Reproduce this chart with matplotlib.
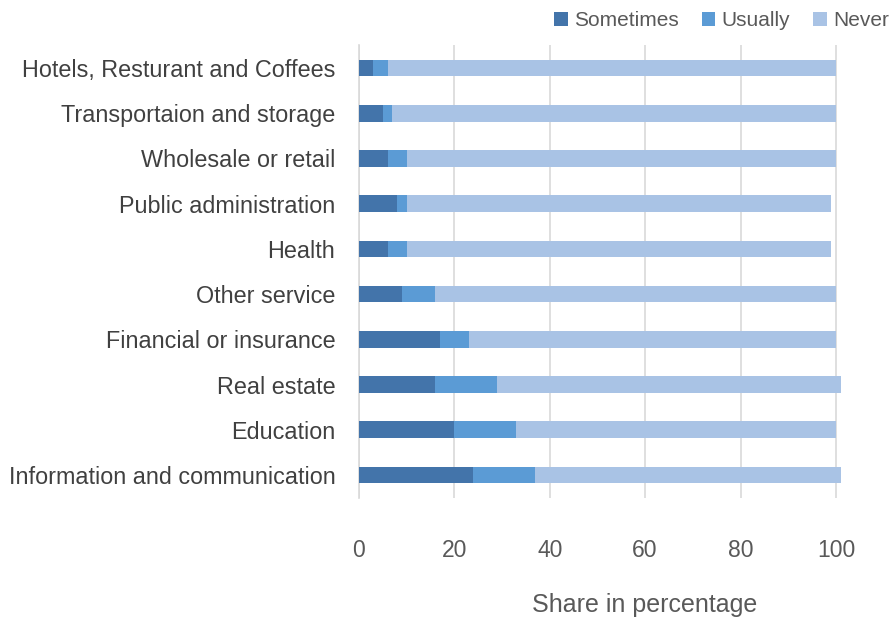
import matplotlib
matplotlib.use("Agg")
import matplotlib.pyplot as plt
import numpy as np

plt.rcParams['font.family'] = ['Liberation Sans', 'DejaVu Sans']

categories = [
    "Hotels, Resturant and Coffees",
    "Transportaion and storage",
    "Wholesale or retail",
    "Public administration",
    "Health",
    "Other service",
    "Financial or insurance",
    "Real estate",
    "Education",
    "Information and communication",
]
sometimes = [3, 5, 6, 8, 6, 9, 17, 16, 20, 24]
usually = [3, 2, 4, 2, 4, 7, 6, 13, 13, 13]
never = [94, 93, 90, 89, 89, 84, 77, 72, 67, 64]

series_names = ["Sometimes", "Usually", "Never"]
colors = ["#4374AA", "#5B9BD5", "#A9C3E5"]

fig = plt.figure(figsize=(8.95, 6.22), dpi=100)
ax = fig.add_axes([0.401, 0.2, 0.541, 0.727])

y = np.arange(len(categories))[::-1]
left = np.zeros(len(categories))
for name, vals, col in zip(series_names, [sometimes, usually, never], colors):
    vals = np.array(vals, dtype=float)
    ax.barh(y, vals, left=left, height=0.37, color=col, label=name, zorder=3)
    left += vals

ax.set_xlim(0, 101.5)
ax.set_ylim(-0.5, len(categories) - 0.5)
ax.set_xticks([0, 20, 40, 60, 80, 100])
ax.set_yticks(y)
ax.set_yticklabels(categories)
ax.grid(axis='x', color='#D9D9D9', linewidth=1.2, zorder=0)
for s in ['top', 'right', 'bottom']:
    ax.spines[s].set_visible(False)
ax.spines['left'].set_color('#D9D9D9')
ax.spines['left'].set_linewidth(1.2)
ax.tick_params(axis='y', length=0, pad=17, labelsize=16.8, labelcolor='#404040')
ax.tick_params(axis='x', length=0, pad=30, labelsize=16.5, labelcolor='#595959')
ax.set_xlabel("Share in percentage", fontsize=18, color='#595959', labelpad=20)
ax.xaxis.set_label_coords(0.59, -0.21)

leg = fig.legend(loc='upper right', bbox_to_anchor=(1.014, 1.012), ncol=3, frameon=False,
                 fontsize=15, handlelength=0.65, handleheight=0.65, handletextpad=0.3,
                 columnspacing=1.1, labelcolor='#595959')

fig.savefig("out.png", dpi=100, facecolor='white')
